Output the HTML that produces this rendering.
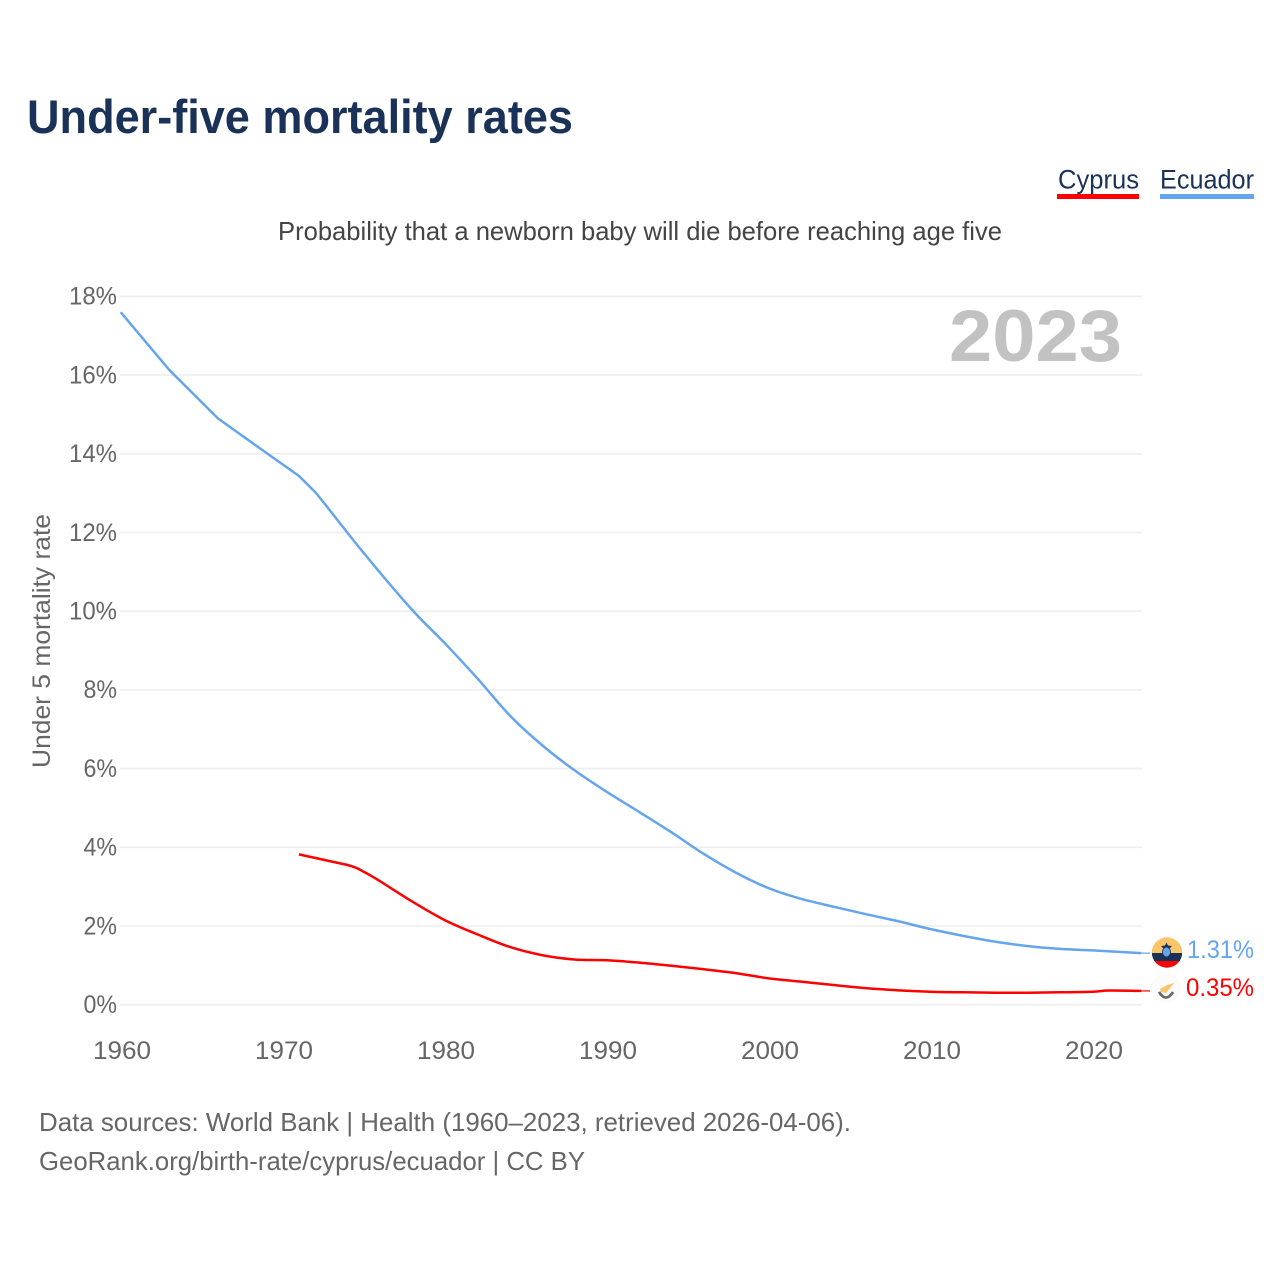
<!DOCTYPE html>
<html lang="en">
<head>
<meta charset="utf-8">
<title>Under-five mortality rates</title>
<style>
html,body{margin:0;padding:0;background:#fff;}
svg{display:block;font-family:"Liberation Sans",sans-serif;}
</style>
</head>
<body>
<svg id="chart" width="1280" height="1280" viewBox="0 0 1280 1280" xmlns="http://www.w3.org/2000/svg">
  <rect width="1280" height="1280" fill="#fff"/>
  <text x="27" y="133" font-size="47" font-weight="700" fill="#1a3257" textLength="546" lengthAdjust="spacingAndGlyphs">Under-five mortality rates</text>

  <g>
    <text x="1058" y="188.500" font-size="27" fill="#1a3257" textLength="81" lengthAdjust="spacingAndGlyphs">Cyprus</text>
    <rect x="1057" y="194" width="82" height="5" fill="#ff0000"/>
  </g>
  <g>
    <text x="1160" y="188.500" font-size="27" fill="#1a3257" textLength="94" lengthAdjust="spacingAndGlyphs">Ecuador</text>
    <rect x="1160" y="194" width="94" height="5" fill="#64a5ee"/>
  </g>

  <text x="278" y="240" font-size="26" fill="#444" textLength="724" lengthAdjust="spacingAndGlyphs">Probability that a newborn baby will die before reaching age five</text>
  <text transform="translate(50,768) rotate(-90)" font-size="25" fill="#666" textLength="254" lengthAdjust="spacingAndGlyphs">Under 5 mortality rate</text>

  <g id="grid"></g>
  <g id="ylabels"></g>
  <g id="xlabels"></g>

  <text x="949" y="361" font-size="73" font-weight="700" fill="#c2c2c2" textLength="173" lengthAdjust="spacingAndGlyphs">2023</text>

  <g id="series"></g>

  <g>
    <clipPath id="ecClip"><circle cx="1167" cy="952.5" r="15.2"/></clipPath>
    <g clip-path="url(#ecClip)">
      <rect x="1150" y="936" width="34" height="17" fill="#fcc56b"/>
      <rect x="1150" y="953" width="34" height="8" fill="#1a3257"/>
      <rect x="1150" y="961" width="34" height="9" fill="#ff0000"/>
    </g>
    <polygon points="1166.500,942.500 1168,945.500 1172,946 1169.500,948.500 1163.500,948.500 1161,946 1165,945.500" fill="#1a3257"/>
    <ellipse cx="1166.500" cy="952" rx="4" ry="5" fill="#64a5ee" stroke="#1a3257" stroke-width="0.8"/>
  </g>
  <g>
    <circle cx="1166" cy="988" r="15" fill="#fbfbfb"/>
    <path d="M1160 989 L1167 985 L1174 983 L1170 988 L1166 993 L1161 992 Z" fill="#fcc56b"/>
    <path d="M1159 992 Q1166 1003 1173 992" fill="none" stroke="#666" stroke-width="2.600"/>
  </g>

  <text x="1187" y="958" font-size="25" fill="#64a5ee" textLength="67" lengthAdjust="spacingAndGlyphs">1.31%</text>
  <text x="1186" y="996" font-size="25" fill="#ff0000" textLength="68" lengthAdjust="spacingAndGlyphs">0.35%</text>

  <text x="39" y="1131" font-size="26" fill="#666" textLength="812" lengthAdjust="spacingAndGlyphs">Data sources: World Bank | Health (1960–2023, retrieved 2026-04-06).</text>
  <text x="39" y="1170" font-size="26" fill="#666" textLength="546" lengthAdjust="spacingAndGlyphs">GeoRank.org/birth-rate/cyprus/ecuador | CC BY</text>
</svg>
<script>
const ecuadorYears = [1960,1963,1966,1969,1971,1972,1975,1978,1980,1982,1984,1986,1988,1990,1992,1994,1996,1998,2000,2002,2004,2006,2008,2010,2012,2014,2016,2018,2020,2023];
const ecuadorValues = [17.60,16.13,14.90,14.02,13.44,13.03,11.48,10.03,9.19,8.30,7.36,6.60,5.96,5.41,4.90,4.38,3.83,3.35,2.96,2.69,2.49,2.30,2.12,1.92,1.75,1.60,1.49,1.42,1.38,1.31];
const cyprusYears = [1971,1974,1975,1976,1978,1980,1982,1984,1986,1988,1990,1992,1994,1996,1998,2000,2002,2004,2006,2008,2010,2012,2014,2016,2018,2020,2021,2023];
const cyprusValues = [3.82,3.55,3.38,3.14,2.62,2.15,1.79,1.47,1.26,1.15,1.13,1.07,0.99,0.90,0.80,0.67,0.585,0.50,0.42,0.365,0.33,0.315,0.305,0.305,0.315,0.33,0.36,0.35];
const yTicks = [0,2,4,6,8,10,12,14,16,18];
const xTicks = [1960,1970,1980,1990,2000,2010,2020];
const straightBeforeYear = 1972;

const NS = 'http://www.w3.org/2000/svg';
function xScale(year){ return 120.7 + (year - 1960) * 16.2; }
function yScale(v){ return 1004.7 - v * 39.35; }
function make(tag, attrs, parent){
  const el = document.createElementNS(NS, tag);
  for (const k in attrs) el.setAttribute(k, attrs[k]);
  parent.appendChild(el);
  return el;
}

const grid = document.getElementById('grid');
const ylabels = document.getElementById('ylabels');
const xlabels = document.getElementById('xlabels');
const seriesGroup = document.getElementById('series');

yTicks.forEach(function(t){
  const line = make('line', {x1:120, x2:1142, y1:yScale(t), y2:yScale(t), stroke:'#eeeeee', 'stroke-width':1.6}, grid);
  
  
  const s = t + '%';
  const w = (s.length - 1) * 14.5 + 19;
  const label = make('text', {x:117 - w, y:yScale(t) + 8.3, 'font-size':25, fill:'#666', textLength:w, lengthAdjust:'spacingAndGlyphs'}, ylabels);
  
  
  label.textContent = s;
});

xTicks.forEach(function(t){
  const label = make('text', {x:xScale(t) - 27.7, y:1059, 'font-size':25, fill:'#666', textLength:58, lengthAdjust:'spacingAndGlyphs'}, xlabels);
  
  
  label.textContent = t;
});

function pathFor(years, values){
  const pts = years.map(function(y, i){ return [xScale(y), yScale(values[i])]; });
  let d = 'M' + pts[0][0].toFixed(2) + ' ' + pts[0][1].toFixed(2);
  for (let i = 0; i < pts.length - 1; i++) {
    const p0 = pts[Math.max(i - 1, 0)];
    const p1 = pts[i];
    const p2 = pts[i + 1];
    const p3 = pts[Math.min(i + 2, pts.length - 1)];
    if (years[i] < straightBeforeYear) {
      d += ' L' + p2[0].toFixed(2) + ' ' + p2[1].toFixed(2);
      continue;
    }
    const c1x = p1[0] + (p2[0] - p0[0]) / 6;
    const c1y = p1[1] + (p2[1] - p0[1]) / 6;
    const c2x = p2[0] - (p3[0] - p1[0]) / 6;
    const c2y = p2[1] - (p3[1] - p1[1]) / 6;
    d += ' C' + c1x.toFixed(2) + ' ' + c1y.toFixed(2) + ' ' + c2x.toFixed(2) + ' ' + c2y.toFixed(2) + ' ' + p2[0].toFixed(2) + ' ' + p2[1].toFixed(2);
  }
  return d;
}
function drawLeader(years, values, color){
  const last = years.length - 1;
  const leader = make('line', {x1:xScale(years[last]), x2:1150, y1:yScale(values[last]), y2:yScale(values[last]), stroke:color, 'stroke-width':1.2}, seriesGroup);
  
  
}

const ecuadorLine = make('path', {d:pathFor(ecuadorYears, ecuadorValues), fill:'none', stroke:'#64a5ee', 'stroke-width':2.5, 'stroke-linejoin':'round'}, seriesGroup);


drawLeader(ecuadorYears, ecuadorValues, '#64a5ee');

const cyprusLine = make('path', {d:pathFor(cyprusYears, cyprusValues), fill:'none', stroke:'#ff0000', 'stroke-width':2.5, 'stroke-linejoin':'round'}, seriesGroup);


drawLeader(cyprusYears, cyprusValues, '#ff0000');
</script>
</body>
</html>
